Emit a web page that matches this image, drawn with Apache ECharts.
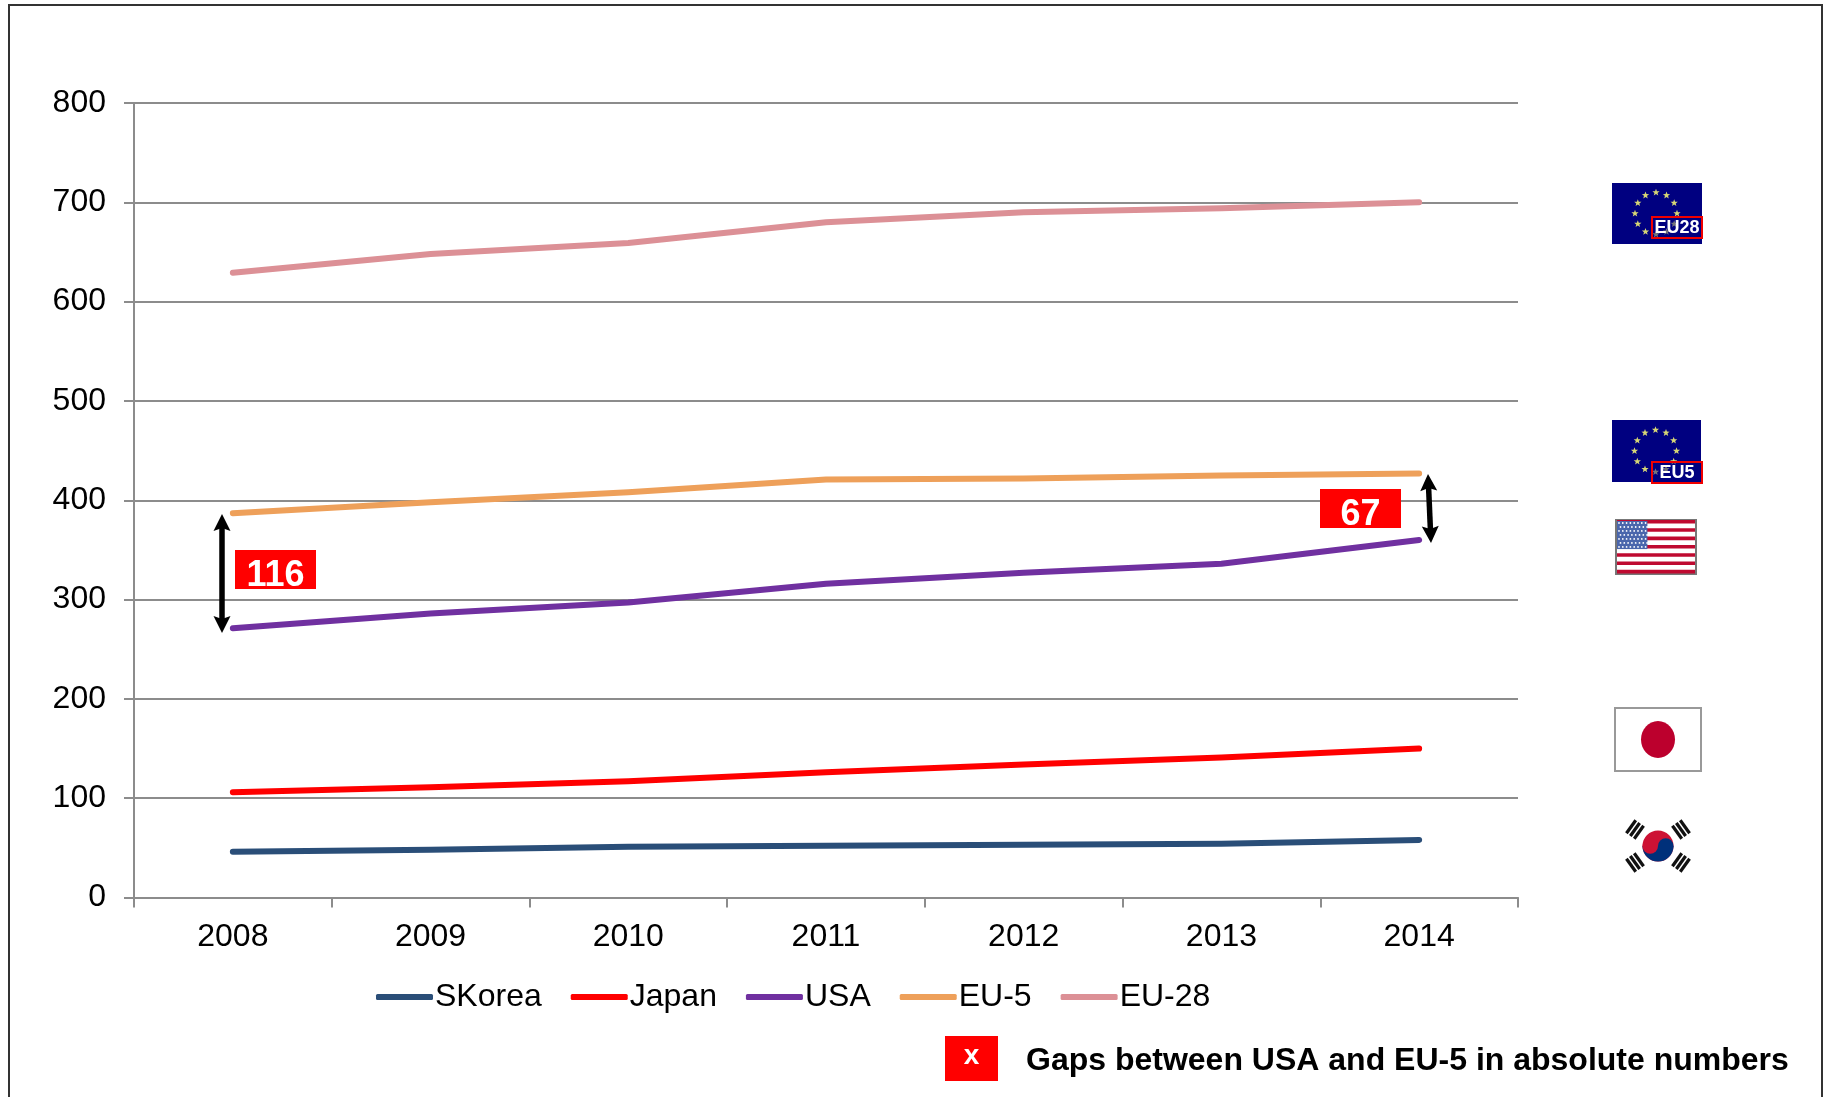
<!DOCTYPE html>
<html><head><meta charset="utf-8">
<style>html,body{margin:0;padding:0;background:#fff}#c{width:1830px;height:1097px}</style>
<script src="https://cdn.jsdelivr.net/npm/echarts@6/dist/echarts.min.js"></script>
</head><body><div id="c"></div>
<script>
const categories = ['2008','2009','2010','2011','2012','2013','2014'];
const skorea = [46,48,51,52,53,54,58];
const japan  = [106,111,117,126,134,141,150];
const usa    = [271,286,297,316,327,336,360];
const eu5    = [387,398,408,421,422,425,427];
const eu28   = [629,648,659,680,690,694,700];
const yTicks = {min:0,max:800,interval:100};
const gapNotes = ['116','67'];
const noteText = 'Gaps between USA and EU-5 in absolute numbers';

const FONT = '"Liberation Sans", Arial, sans-serif';
const chart = echarts.init(document.getElementById('c'),null,{renderer:'canvas'});
const mk = (name,data,color,z)=>({name,type:'line',data,symbol:'none',smooth:false,z,
  lineStyle:{color,width:6,cap:'round',join:'round'},itemStyle:{color}});

function star(cx,cy,r,fill){
  const pts=[];for(let i=0;i<10;i++){const a=-Math.PI/2+i*Math.PI/5;const q=i%2?r*0.42:r;pts.push([cx+q*Math.cos(a),cy+q*Math.sin(a)]);}
  return {type:'polygon',shape:{points:pts},style:{fill},z:20};
}
function euFlag(x,y,w,h,label,lx,ly,lw,lh,fs){
  const cx=x+w/2-1,cy=y+h/2,R=21,out=[{type:'rect',shape:{x,y,width:w,height:h},style:{fill:'#000080'},z:19}];
  for(let i=0;i<12;i++){const a=i*Math.PI/6;out.push(star(cx+R*Math.sin(a),cy-R*Math.cos(a),3.8,'#d6d675'));}
  out.push({type:'rect',shape:{x:lx,y:ly,width:lw,height:lh},style:{fill:'rgba(0,0,128,0.45)',stroke:'#f00000',lineWidth:2},z:21});
  out.push({type:'text',style:{x:lx+lw/2,y:ly+lh/2+1,text:label,fill:'#fff',font:'bold '+fs+'px '+FONT,align:'center',verticalAlign:'middle'},z:22});
  return out;
}
function usFlag(x,y,w,h){
  const out=[{type:'rect',shape:{x,y,width:w,height:h},style:{fill:'#fff',stroke:'#777',lineWidth:2},z:19}];
  const sh=h/13;
  for(let i=0;i<13;i+=2)out.push({type:'rect',shape:{x:x+1,y:y+i*sh,width:w-2,height:sh*0.85},style:{fill:'#bf0a30'},z:20});
  const uw=w*0.38,uh=sh*7;
  out.push({type:'rect',shape:{x:x+1,y:y+1,width:uw,height:uh-1},style:{fill:'#4a66ac'},z:21});
  for(let r=0;r<7;r++)for(let c=0;c<8;c++)out.push({type:'circle',shape:{cx:x+3+c*uw/8+(r%2?1.5:0),cy:y+3+r*uh/7.3,r:0.9},style:{fill:'#fff'},z:22});
  return out;
}
function jpFlag(x,y,w,h){
  return [{type:'rect',shape:{x,y,width:w,height:h},style:{fill:'#fff',stroke:'#999',lineWidth:2},z:19},
    {type:'ellipse',shape:{cx:x+w/2,cy:y+h/2,rx:17,ry:18.5},style:{fill:'#bc002d'},z:20}];
}
function krFlag(cx,cy){
  const r=15.5,out=[
    {type:'circle',shape:{cx,cy,r},style:{fill:'#cd1234'},z:20},
    {type:'sector',shape:{cx,cy,r,r0:0,startAngle:0,endAngle:Math.PI},style:{fill:'#00307a'},z:21},
    {type:'circle',shape:{cx:cx+r/2,cy:cy,r:r/2},style:{fill:'#00307a'},z:22},
    {type:'circle',shape:{cx:cx-r/2,cy:cy,r:r/2},style:{fill:'#cd1234'},z:22}];
  [[-1,-1],[1,-1],[-1,1],[1,1]].forEach(([sx,sy])=>{
    const px=cx+sx*23,py=cy+sy*16.5,rot=Math.atan2(sy*16.5,sx*23)+Math.PI/2;
    [-4.8,0,4.8].forEach(o=>{
      out.push({type:'rect',x:px+o*Math.cos(rot+Math.PI/2),y:py+o*Math.sin(rot+Math.PI/2),rotation:-rot,
        shape:{x:-8,y:-1.6,width:16,height:3.2},style:{fill:'#111'},z:20});
    });
  });
  return out;
}
function arrow(x1,y1,x2,y2){
  const L=Math.hypot(x2-x1,y2-y1),ux=(x2-x1)/L,uy=(y2-y1)/L,nx=-uy,ny=ux,hl=17,hw=8.5;
  const head=(tx,ty,dx,dy)=>({type:'polygon',shape:{points:[[tx,ty],[tx-dx*hl+nx*hw,ty-dy*hl+ny*hw],[tx-dx*(hl-3),ty-dy*(hl-3)],[tx-dx*hl-nx*hw,ty-dy*hl-ny*hw]]},style:{fill:'#000'},z:30});
  return [{type:'line',shape:{x1:x1+ux*8,y1:y1+uy*8,x2:x2-ux*8,y2:y2-uy*8},style:{stroke:'#000',lineWidth:5.5},z:30},
    head(x1,y1,-ux,-uy),head(x2,y2,ux,uy)];
}
function redBox(x,y,w,h,text,fs,dy){
  return [{type:'rect',shape:{x,y,width:w,height:h},style:{fill:'#ff0000'},z:31},
    {type:'text',style:{x:x+w/2,y:y+h/2+dy,text,fill:'#fff',font:'bold '+fs+'px '+FONT,align:'center',verticalAlign:'middle'},z:32}];
}
const graphics=[
  {type:'polyline',shape:{points:[[9,1100],[9,5],[1822,5],[1822,1100]]},style:{stroke:'#333',lineWidth:2,fill:null},z:1},
  ...euFlag(1612,183,90,61,'EU28',1652,217,50,21,18),
  ...euFlag(1612,420,89,62,'EU5',1652,462,50,21,18),
  ...usFlag(1616,520,80,54),
  ...jpFlag(1615,708,86,63),
  ...krFlag(1658,846),
  ...arrow(222,514,222,633),
  ...arrow(1428,474,1431,543),
  ...redBox(235,550,81,39,gapNotes[0],36,7),
  ...redBox(1320,489,81,39,gapNotes[1],36,7),
  ...redBox(945,1036,53,45,'x',28,-2),
  {type:'text',style:{x:1026,y:1061,text:noteText,fill:'#000',font:'bold 32px '+FONT,align:'left',verticalAlign:'middle'},z:32}
];
chart.setOption({
  animation:false,
  backgroundColor:'#fff',
  textStyle:{fontFamily:FONT},
  grid:{left:134,right:1830-1518,top:103,bottom:1097-897.5,containLabel:false},
  legend:{left:371,top:976,itemWidth:57,itemHeight:6,itemGap:29,icon:'roundRect',
    data:['SKorea','Japan','USA','EU-5','EU-28'],
    textStyle:{fontSize:32,color:'#000',fontFamily:FONT,padding:[2,0,0,-3]}},
  xAxis:{type:'category',data:categories,boundaryGap:true,
    axisLine:{lineStyle:{color:'#8c8c8c',width:2}},
    axisTick:{show:true,length:10,alignWithLabel:false,lineStyle:{color:'#8c8c8c',width:2}},
    axisLabel:{fontSize:32,color:'#000',margin:24,fontFamily:FONT},splitLine:{show:false}},
  yAxis:{type:'value',min:yTicks.min,max:yTicks.max,interval:yTicks.interval,
    axisLine:{show:true,lineStyle:{color:'#8c8c8c',width:2}},
    axisTick:{show:true,length:10,lineStyle:{color:'#8c8c8c',width:2}},
    axisLabel:{fontSize:32,color:'#000',margin:28,fontFamily:FONT,padding:[6,0,0,0]},
    splitLine:{show:true,lineStyle:{color:'#8c8c8c',width:2}}},
  series:[mk('SKorea',skorea,'#2a4e78',5),mk('Japan',japan,'#ff0000',6),mk('USA',usa,'#7030a0',7),mk('EU-5',eu5,'#eea05a',8),mk('EU-28',eu28,'#dc9096',9)],
  graphic:graphics
});
</script></body></html>
